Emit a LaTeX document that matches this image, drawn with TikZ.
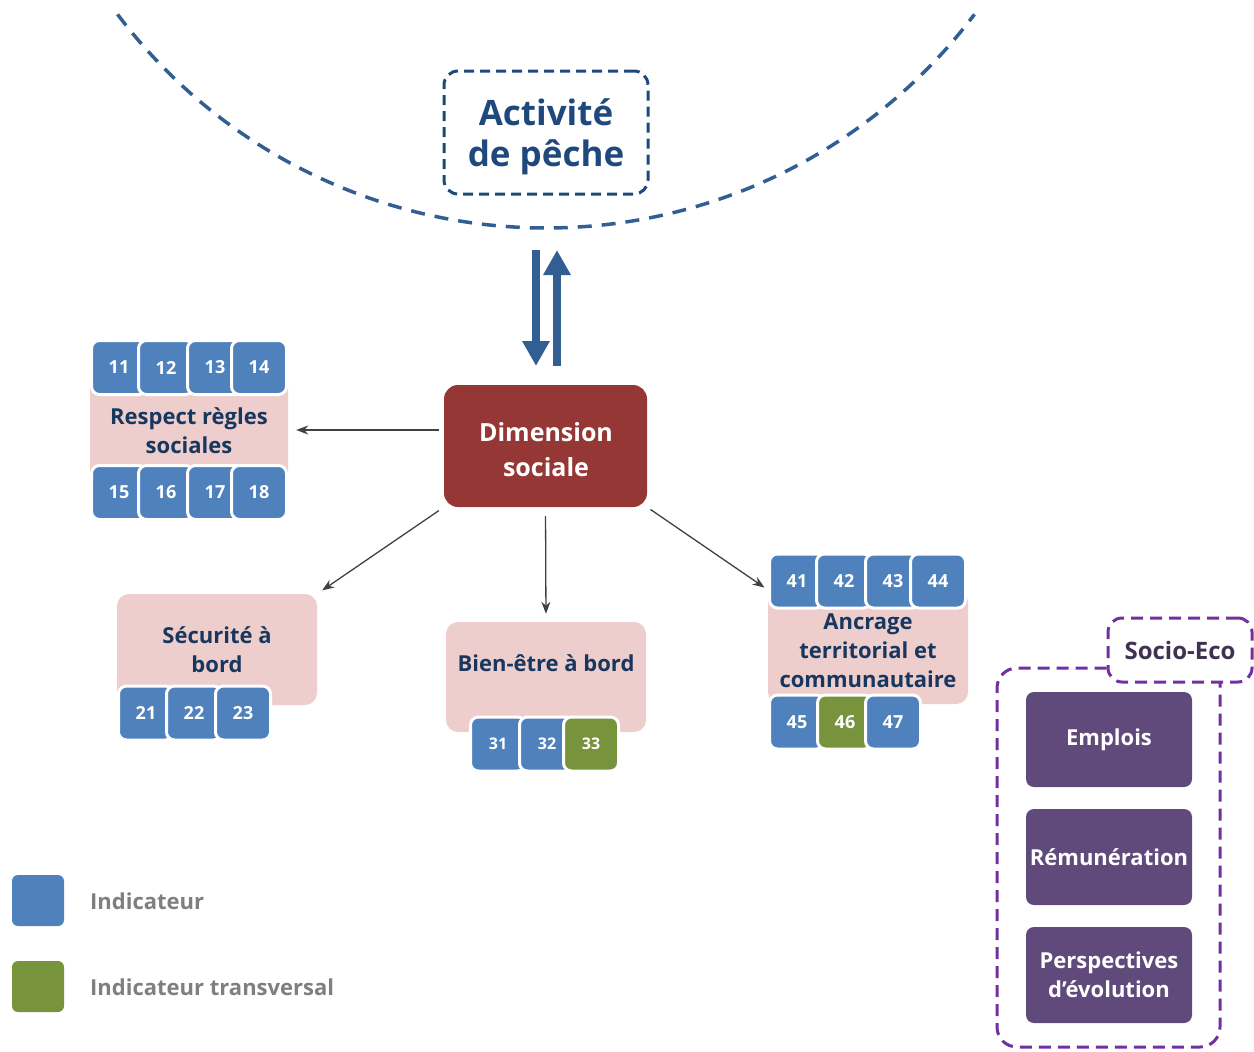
\documentclass[tikz,border=0pt]{standalone}
\usepackage{fontspec}
\setmainfont{Open Sans}
\usetikzlibrary{arrows.meta}
\definecolor{navy}{HTML}{1F497D}
\definecolor{arcblue}{HTML}{325F93}
\definecolor{indblue}{HTML}{4F81BD}
\definecolor{indgreen}{HTML}{77933C}
\definecolor{rose}{HTML}{EECDCD}
\definecolor{brick}{HTML}{953735}
\definecolor{plum}{HTML}{604A7B}
\definecolor{violet}{HTML}{7030A0}
\definecolor{textnavy}{HTML}{17375E}
\definecolor{legendgray}{HTML}{7F7F7F}
\definecolor{plumtext}{HTML}{3F3151}
\definecolor{linkgray}{HTML}{404040}

\begin{document}
\begin{tikzpicture}[x=1pt,y=-1pt,
  indbox/.style={draw=white, line width=3pt, rounded corners=8pt,
    minimum width=55pt, minimum height=54pt, inner sep=0pt, text=white,
    font=\fontsize{18}{18}\selectfont\bfseries},
  indb/.style={indbox, fill=indblue},
  indg/.style={indbox, fill=indgreen},
  theme/.style={fill=rose, rounded corners=12pt, inner sep=0pt},
  themetext/.style={text=textnavy, align=center, inner sep=0pt,
    font=\fontsize{22}{29}\selectfont\bfseries},
  subtheme/.style={fill=plum, rounded corners=8pt, minimum width=166pt,
    inner sep=0pt, text=white, align=center,
    font=\fontsize{22}{29}\selectfont\bfseries},
  link/.style={draw=linkgray, line width=1.3pt,
    -{Stealth[length=12pt,width=9pt]}},
  bigarrow/.style={draw=arcblue, line width=8pt,
    -{Triangle[length=25pt,width=26pt]}},
  legsq/.style={rounded corners=6pt, minimum width=52pt, minimum height=51pt, inner sep=0pt}
]
\useasboundingbox (0,0) rectangle (1254,1052);

% fishing activity: dashed circle arc and its box
\draw[arcblue, line width=3.5pt, dash pattern=on 14pt off 10pt]
  plot[domain=-143:-37, samples=80, smooth] ({546+536.5*cos(\x)}, {-308.5-536.5*sin(\x)});
\node[draw=navy, line width=3pt, dash pattern=on 10pt off 6pt, rounded corners=14pt,
  minimum width=204pt, minimum height=123pt, inner sep=0pt] (peche) at (546,132.5) {};
\node[align=center, text=navy, inner sep=0pt,
  font=\fontsize{35}{41}\selectfont\bfseries] (pechetxt) at (546,137) {Activité\\de pêche};

% central dimension
\node[fill=brick, rounded corners=14pt, minimum width=203pt, minimum height=122pt,
  inner sep=0pt] (dim) at (545.5,446) {};
\node[align=center, text=white, inner sep=0pt,
  font=\fontsize{25}{35}\selectfont\bfseries] (dimtxt) at (546,450) {Dimension\\sociale};

% two-way exchange
\coordinate (downtop) at (536,250);
\coordinate (downtip) at (536,366);
\coordinate (uptail) at (557,366);
\coordinate (uptip) at (557,250);
\draw[bigarrow] (downtop) -- (downtip);
\draw[bigarrow] (uptail) -- (uptip);

% theme 1
\node[theme, minimum width=198pt, minimum height=90pt, rounded corners=4pt] (resp) at (189,430) {};
\node[themetext] (resptxt) at (189,431) {Respect règles\\sociales};
\node[indb] (i11) at (119,367.5) {11};
\node[indb] (i12) at (166,367.5) {12};
\node[indb] (i13) at (215,367.5) {13};
\node[indb] (i14) at (259,367.5) {14};
\node[indb] (i15) at (119,492.5) {15};
\node[indb] (i16) at (166,492.5) {16};
\node[indb] (i17) at (215,492.5) {17};
\node[indb] (i18) at (259,492.5) {18};

% theme 2
\node[theme, minimum width=200pt, minimum height=111pt] (secu) at (217,649.5) {};
\node[themetext] (secutxt) at (217,649.5) {Sécurité à\\bord};
\node[indb] (i21) at (146,713) {21};
\node[indb] (i22) at (194,713) {22};
\node[indb] (i23) at (243,713) {23};

% theme 3
\node[theme, minimum width=200pt, minimum height=110pt] (bien) at (546,677) {};
\node[themetext] (bientxt) at (546,663) {Bien-être à bord};
\node[indb, font=\fontsize{16}{16}\selectfont\bfseries] (i31) at (498,744) {31};
\node[indb, font=\fontsize{16}{16}\selectfont\bfseries] (i32) at (547,744) {32};
\node[indg, font=\fontsize{16}{16}\selectfont\bfseries] (i33) at (591,744) {33};

% theme 4
\node[theme, minimum width=200pt, minimum height=114pt] (anc) at (868,647) {};
\node[themetext] (anctxt) at (868,651) {Ancrage\\territorial et\\communautaire};
\node[indb] (i41) at (797,581) {41};
\node[indb] (i42) at (844,581) {42};
\node[indb] (i43) at (893,581) {43};
\node[indb] (i44) at (938,581) {44};
\node[indb] (i45) at (797,722) {45};
\node[indg] (i46) at (845,722) {46};
\node[indb] (i47) at (893,722) {47};

% links from the dimension to its themes
\draw[link, shorten <=5pt, shorten >=8pt] (dim.west |- resp.east) -- (resp.east);
\draw[link, shorten <=6pt, shorten >=6pt] (dim.south west) -- (secu.north east);
\draw[link, shorten <=9pt, shorten >=8pt] (dim.south) -- (bien.north);
\draw[link, shorten <=4pt, shorten >=4pt] (dim.south east) -- (anc.north west);

% socio-economic group
\node[draw=violet, line width=3pt, dash pattern=on 12pt off 7pt, rounded corners=14pt,
  minimum width=144pt, minimum height=64pt, inner sep=0pt, text=plumtext,
  font=\fontsize{24}{24}\selectfont\bfseries] (socio) at (1180,650) {Socio-Eco};
\draw[violet, line width=3pt, dash pattern=on 12pt off 7pt, rounded corners=20pt]
  (socio.west |- 0,668) -- (997,668) -- (997,1047) -- (1220,1047) -- (1220,682);
\node[subtheme, minimum height=95pt] (emplois) at (1109,739.5) {Emplois};
\node[subtheme, minimum height=96pt] (remu) at (1109,857) {Rémunération};
\node[subtheme, minimum height=96pt] (persp) at (1109,975) {Perspectives\\d’évolution};

% legend
\node[legsq, fill=indblue] (legb) at (38,900.5) {};
\node[legsq, fill=indgreen] (legg) at (38,986.5) {};
\node[anchor=west, inner sep=0pt, text=legendgray, font=\fontsize{22}{22}\selectfont\bfseries]
  (legbtxt) at (90,901) {Indicateur};
\node[anchor=west, inner sep=0pt, text=legendgray, font=\fontsize{22}{22}\selectfont\bfseries]
  (leggtxt) at (90,987) {Indicateur transversal};
\end{tikzpicture}
\end{document}
